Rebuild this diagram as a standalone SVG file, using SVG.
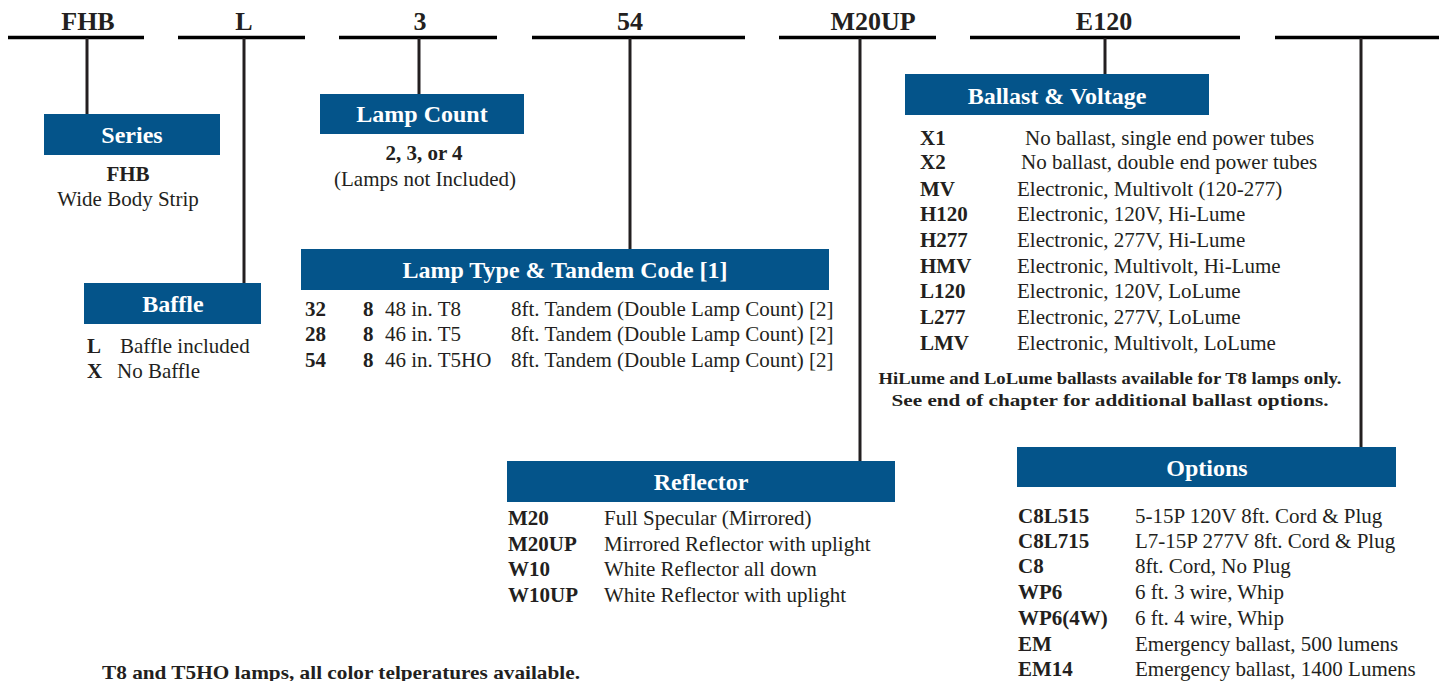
<svg xmlns="http://www.w3.org/2000/svg" width="1439" height="681" viewBox="0 0 1439 681">
<style>
text{font-family:"Liberation Serif","Times New Roman",Tinos,serif;fill:#231f20}
.top{font-size:26px;font-weight:bold;text-anchor:middle}
.hdr{fill:#04548a}
.ht{font-size:24px;font-weight:bold;fill:#fff;text-anchor:middle}
.b{font-size:21px;font-weight:bold}
.t{font-size:21px}
.c{text-anchor:middle}
.note{font-size:17px;font-weight:bold;text-anchor:middle}
.hl{stroke:#000;stroke-width:3.5}
.vl{stroke:#231f20;stroke-width:3}
</style>
<rect width="1439" height="681" fill="#fff"/>
<g id="connectors">
<line class="hl" x1="8" y1="37.5" x2="144" y2="37.5"/>
<line class="hl" x1="178" y1="37.5" x2="305" y2="37.5"/>
<line class="hl" x1="339" y1="37.5" x2="497" y2="37.5"/>
<line class="hl" x1="532" y1="37.5" x2="745" y2="37.5"/>
<line class="hl" x1="779" y1="37.5" x2="936" y2="37.5"/>
<line class="hl" x1="970" y1="37.5" x2="1240" y2="37.5"/>
<line class="hl" x1="1275" y1="37.5" x2="1439" y2="37.5"/>
<line class="vl" x1="87" y1="38" x2="87" y2="114"/>
<line class="vl" x1="244" y1="38" x2="244" y2="283"/>
<line class="vl" x1="419" y1="38" x2="419" y2="94"/>
<line class="vl" x1="630" y1="38" x2="630" y2="249"/>
<line class="vl" x1="860" y1="38" x2="860" y2="461"/>
<line class="vl" x1="1105" y1="38" x2="1105" y2="74"/>
<line class="vl" x1="1361" y1="38" x2="1361" y2="447"/>
</g>
<g id="codes">
<text class="top" x="88" y="30">FHB</text>
<text class="top" x="244" y="30">L</text>
<text class="top" x="420" y="30">3</text>
<text class="top" x="630" y="30">54</text>
<text class="top" x="873" y="30">M20UP</text>
<text class="top" x="1104" y="30">E120</text>
</g>
<g id="series">
<rect class="hdr" x="44" y="114" width="176" height="41"/>
<text class="ht" x="132" y="143">Series</text>
<text class="b c" x="128" y="181">FHB</text>
<text class="t c" x="128" y="206">Wide Body Strip</text>
</g>
<g id="baffle">
<rect class="hdr" x="84" y="283" width="177" height="41"/>
<text class="ht" x="173" y="312">Baffle</text>
<text class="b" x="87" y="353">L</text>
<text class="t" x="120" y="353">Baffle included</text>
<text class="b" x="87" y="378">X</text>
<text class="t" x="117" y="378">No Baffle</text>
</g>
<g id="lamp-count">
<rect class="hdr" x="320" y="94" width="204" height="40"/>
<text class="ht" x="422" y="122">Lamp Count</text>
<text class="b c" x="424" y="160">2, 3, or 4</text>
<text class="t c" x="425" y="186">(Lamps not Included)</text>
</g>
<g id="lamp-type">
<rect class="hdr" x="301" y="249" width="528" height="41"/>
<text class="ht" x="565" y="278">Lamp Type &amp; Tandem Code [1]</text>
<text class="b" x="305" y="316">32</text><text class="b" x="363" y="316">8</text><text class="t" x="385" y="316">48 in. T8</text><text class="t" x="511" y="316">8ft. Tandem (Double Lamp Count) [2]</text>
<text class="b" x="305" y="341">28</text><text class="b" x="363" y="341">8</text><text class="t" x="385" y="341">46 in. T5</text><text class="t" x="511" y="341">8ft. Tandem (Double Lamp Count) [2]</text>
<text class="b" x="305" y="367">54</text><text class="b" x="363" y="367">8</text><text class="t" x="385" y="367">46 in. T5HO</text><text class="t" x="511" y="367">8ft. Tandem (Double Lamp Count) [2]</text>
</g>
<g id="ballast">
<rect class="hdr" x="905" y="74" width="304" height="41"/>
<text class="ht" x="1057" y="104">Ballast &amp; Voltage</text>
<text class="b" x="920" y="145">X1</text><text class="t" x="1025" y="145">No ballast, single end power tubes</text>
<text class="b" x="920" y="169">X2</text><text class="t" x="1021" y="169">No ballast, double end power tubes</text>
<text class="b" x="920" y="196">MV</text><text class="t" x="1017" y="196">Electronic, Multivolt (120-277)</text>
<text class="b" x="920" y="221">H120</text><text class="t" x="1017" y="221">Electronic, 120V, Hi-Lume</text>
<text class="b" x="920" y="247">H277</text><text class="t" x="1017" y="247">Electronic, 277V, Hi-Lume</text>
<text class="b" x="920" y="273">HMV</text><text class="t" x="1017" y="273">Electronic, Multivolt, Hi-Lume</text>
<text class="b" x="920" y="298">L120</text><text class="t" x="1017" y="298">Electronic, 120V, LoLume</text>
<text class="b" x="920" y="324">L277</text><text class="t" x="1017" y="324">Electronic, 277V, LoLume</text>
<text class="b" x="920" y="350">LMV</text><text class="t" x="1017" y="350">Electronic, Multivolt, LoLume</text>
<text class="note" x="1110" y="384" textLength="463" lengthAdjust="spacingAndGlyphs">HiLume and LoLume ballasts available for T8 lamps only.</text>
<text class="note" x="1110" y="406" textLength="437" lengthAdjust="spacingAndGlyphs">See end of chapter for additional ballast options.</text>
</g>
<g id="reflector">
<rect class="hdr" x="507" y="461" width="388" height="41"/>
<text class="ht" x="701" y="490">Reflector</text>
<text class="b" x="508" y="525">M20</text><text class="t" x="604" y="525">Full Specular (Mirrored)</text>
<text class="b" x="508" y="551">M20UP</text><text class="t" x="604" y="551">Mirrored Reflector with uplight</text>
<text class="b" x="508" y="576">W10</text><text class="t" x="604" y="576">White Reflector all down</text>
<text class="b" x="508" y="602">W10UP</text><text class="t" x="604" y="602">White Reflector with uplight</text>
</g>
<g id="options">
<rect class="hdr" x="1017" y="447" width="379" height="40"/>
<text class="ht" x="1207" y="476">Options</text>
<text class="b" x="1018" y="523">C8L515</text><text class="t" x="1135" y="523">5-15P 120V 8ft. Cord &amp; Plug</text>
<text class="b" x="1018" y="548">C8L715</text><text class="t" x="1135" y="548">L7-15P 277V 8ft. Cord &amp; Plug</text>
<text class="b" x="1018" y="573">C8</text><text class="t" x="1135" y="573">8ft. Cord, No Plug</text>
<text class="b" x="1018" y="599">WP6</text><text class="t" x="1135" y="599">6 ft. 3 wire, Whip</text>
<text class="b" x="1018" y="625">WP6(4W)</text><text class="t" x="1135" y="625">6 ft. 4 wire, Whip</text>
<text class="b" x="1018" y="651">EM</text><text class="t" x="1135" y="651">Emergency ballast, 500 lumens</text>
<text class="b" x="1018" y="676">EM14</text><text class="t" x="1135" y="676">Emergency ballast, 1400 Lumens</text>
</g>
<text x="102" y="679" font-size="19" font-weight="bold" textLength="478" lengthAdjust="spacingAndGlyphs">T8 and T5HO lamps, all color telperatures available.</text>
</svg>
